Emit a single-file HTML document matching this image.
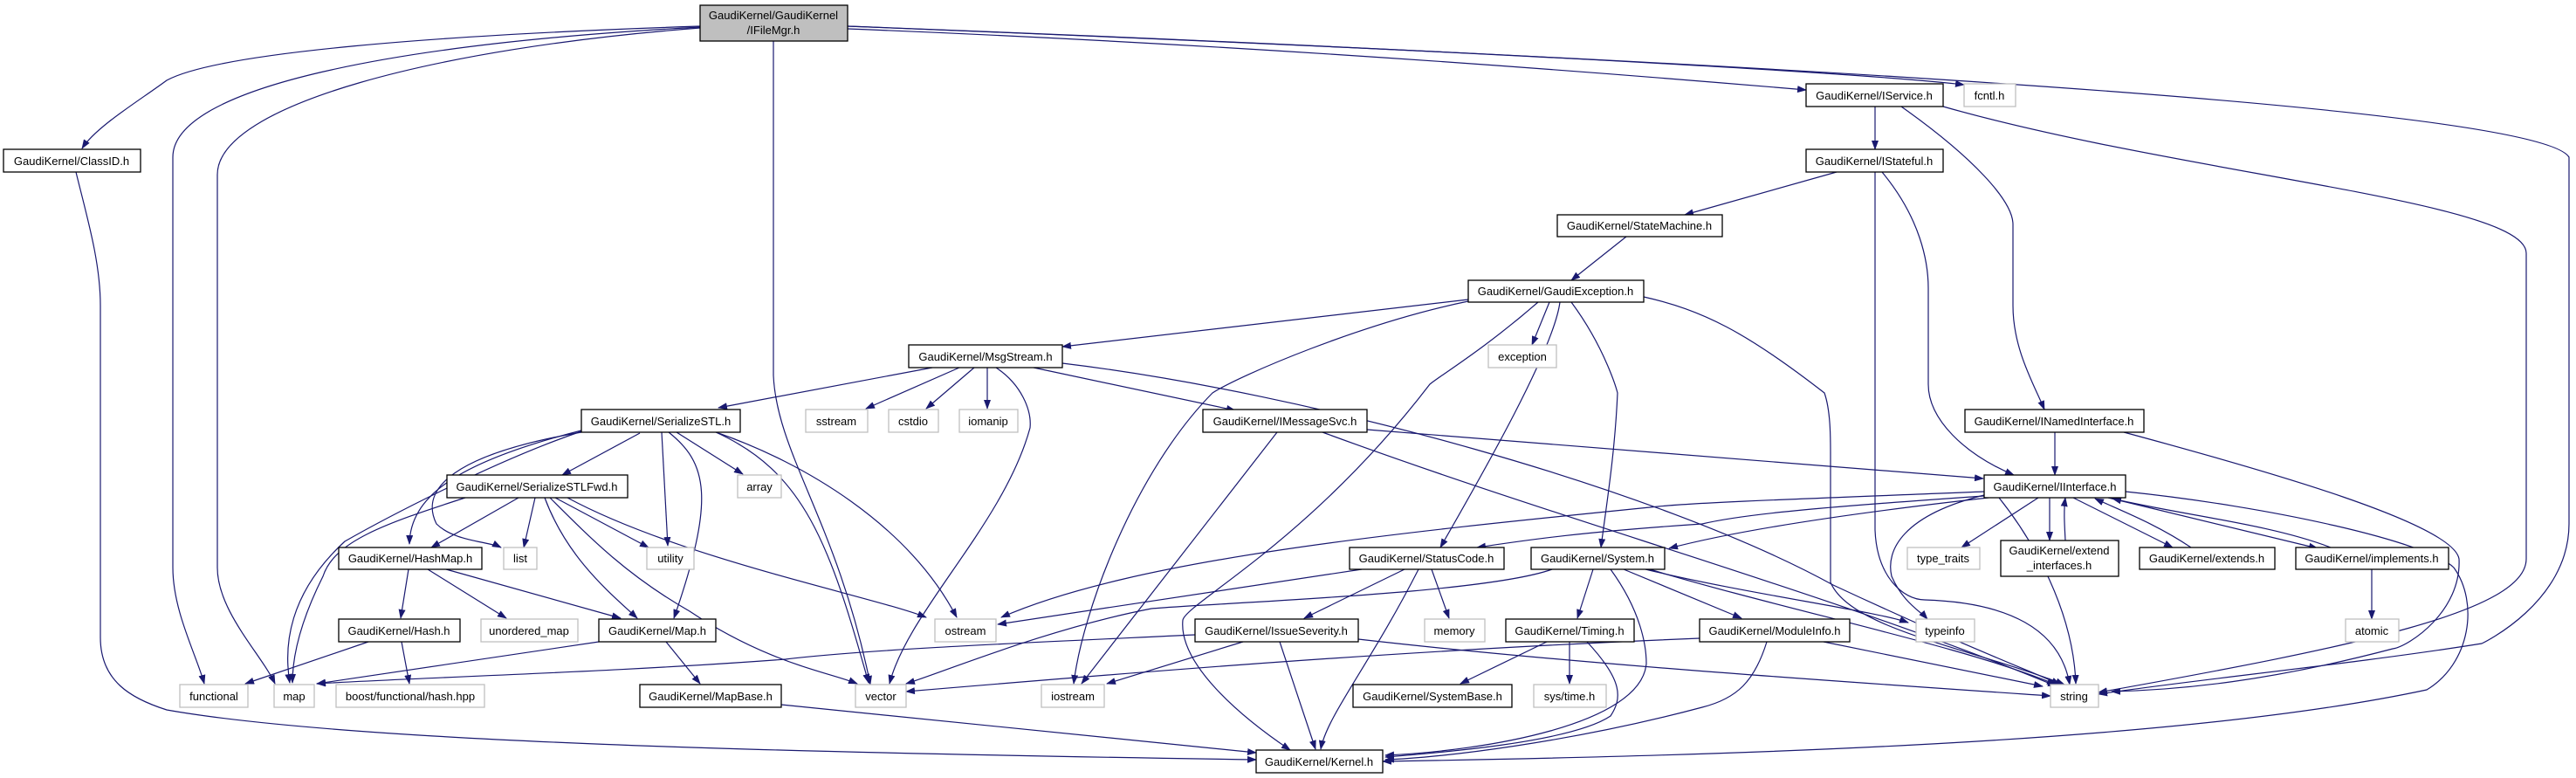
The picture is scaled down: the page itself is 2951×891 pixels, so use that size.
<!DOCTYPE html>
<html><head><meta charset="utf-8"><style>
html,body{margin:0;padding:0;background:#fff;}
svg{display:block;}
text{font-family:"Liberation Sans",sans-serif;font-size:13px;fill:#000;text-anchor:middle;}
.n{fill:#fff;stroke:#000;stroke-width:1.3;}
.g{fill:#fff;stroke:#bfbfbf;stroke-width:1.3;}
.e{fill:none;stroke:#191970;stroke-width:1.2;}
</style></head><body>
<svg width="2951" height="891" viewBox="0 0 2951 891" xmlns="http://www.w3.org/2000/svg">
<defs><marker id="a" markerWidth="11" markerHeight="8" refX="10" refY="4" orient="auto" markerUnits="userSpaceOnUse"><path d="M0,0 L11,4 L0,8 z" fill="#191970"/></marker></defs>
<g class="e" marker-end="url(#a)">
<!-- IFileMgr -->
<path d="M802,30 C500,40 250,60 191,92 C160,115 110,145 94,170"/>
<path d="M802,31 C450,50 198,100 198,180 L198,650 C198,700 225,750 234,783"/>
<path d="M802,32 C500,55 249,120 249,200 L249,650 C249,700 300,750 315,783"/>
<path d="M886,47 L886,430 C890,520 960,600 997,784"/>
<path d="M971,33 C1400,50 1800,80 2069,103"/>
<path d="M971,30 C1500,50 2100,80 2250,97"/>
<path d="M971,30 C1600,55 2900,110 2943,180 L2943,600 C2943,690 2843,737 2843,737 C2700,760 2500,780 2404,795"/>
<!-- ClassID -->
<path d="M87,197 C100,250 115,300 115,350 L115,730 C115,780 150,800 191,813 C400,850 900,862 1439,870"/>
<!-- IService -->
<path d="M2148,122 L2148,171"/>
<path d="M2178,122 C2260,180 2306,230 2306,257 L2306,350 C2306,400 2330,440 2342,469"/>
<path d="M2226,122 C2500,200 2894,230 2894,290 L2894,640 C2894,700 2700,740 2404,793"/>
<!-- IStateful -->
<path d="M2104,197 L1930,246"/>
<path d="M2156,197 C2200,250 2209,300 2209,330 L2209,440 C2209,480 2250,520 2307,544"/>
<path d="M2148,197 L2148,607 C2150,660 2180,687 2205,687 C2300,690 2360,720 2371,784"/>
<!-- StateMachine -->
<path d="M1863,271 L1800,321"/>
<!-- GaudiException -->
<path d="M1682,343 L1217,397"/>
<path d="M1775,346 L1755,395"/>
<path d="M1787,346 C1780,400 1700,540 1650,627"/>
<path d="M1800,346 C1840,400 1853,450 1853,450 C1850,520 1840,580 1834,627"/>
<path d="M1682,345 C1560,370 1420,430 1389,450 C1300,540 1240,700 1230,783"/>
<path d="M1762,346 C1700,400 1650,430 1638,440 C1500,620 1360,690 1355,710 C1350,760 1420,820 1478,859"/>
<path d="M1883,340 C1950,355 2000,380 2090,450 C2097,470 2097,500 2097,520 L2097,667 C2120,720 2250,740 2365,784"/>
<!-- MsgStream -->
<path d="M1068,421 L823,467"/>
<path d="M1099,421 L992,468"/>
<path d="M1116,421 L1061,468"/>
<path d="M1131,421 L1131,468"/>
<path d="M1141,421 C1170,440 1182,470 1180,490 C1150,600 1040,700 1019,783"/>
<path d="M1184,421 L1415,470"/>
<path d="M1217,416 C1500,450 1900,560 2100,670 C2250,740 2330,770 2360,784"/>
<!-- SerializeSTL -->
<path d="M733,496 L644,544"/>
<path d="M775,495 L851,543"/>
<path d="M758,495 L765,625"/>
<path d="M666,495 C520,520 480,560 500,600 C520,620 560,620 574,627"/>
<path d="M666,493 C520,530 470,570 469,623"/>
<path d="M666,494 C560,530 430,600 395,620 C330,680 325,740 332,782"/>
<path d="M766,495 C810,530 820,570 772,708"/>
<path d="M820,495 C920,540 950,620 995,782"/>
<path d="M823,496 C920,530 1040,600 1096,707"/>
<!-- SerializeSTLFwd -->
<path d="M594,570 L494,627"/>
<path d="M613,570 L600,627"/>
<path d="M636,570 L743,627"/>
<path d="M624,570 C650,640 700,680 730,708"/>
<path d="M630,570 C680,620 720,660 790,700 C880,760 950,770 982,783"/>
<path d="M533,570 C440,600 383,620 370,660 C340,720 335,760 335,782"/>
<path d="M650,570 C780,640 1000,683 1061,707"/>
<!-- HashMap -->
<path d="M468,652 L459,708"/>
<path d="M490,652 L580,708"/>
<path d="M511,652 L711,708"/>
<!-- Hash -->
<path d="M422,735 L281,783"/>
<path d="M460,735 L469,783"/>
<!-- Map -->
<path d="M686,735 L363,783"/>
<path d="M763,735 L802,783"/>
<!-- MapBase -->
<path d="M895,807 L1439,862"/>
<!-- IMessageSvc -->
<path d="M1463,495 L1239,783"/>
<path d="M1566,492 L2272,548"/>
<path d="M1515,495 C1800,600 2100,680 2356,786"/>
<!-- StatusCode -->
<path d="M1560,652 L1143,715"/>
<path d="M1609,652 L1494,708"/>
<path d="M1625,652 C1570,760 1520,820 1513,858"/>
<path d="M1640,652 L1660,708"/>
<!-- System -->
<path d="M1778,652 C1700,680 1400,690 1319,697 C1200,720 1080,770 1038,783"/>
<path d="M1825,652 L1807,708"/>
<path d="M1845,652 C1880,700 1886,740 1886,760 C1880,830 1700,860 1587,865"/>
<path d="M1860,652 L1995,708"/>
<path d="M1885,652 C2000,680 2150,700 2186,713"/>
<path d="M1890,652 C2050,700 2250,740 2355,784"/>
<!-- Timing -->
<path d="M1772,735 L1673,783"/>
<path d="M1798,735 L1798,783"/>
<path d="M1818,735 C1860,780 1858,800 1845,820 C1800,850 1650,862 1587,867"/>
<!-- IssueSeverity -->
<path d="M1369,727 C1200,735 1000,743 900,755 C700,770 500,775 363,783"/>
<path d="M1424,735 L1268,783"/>
<path d="M1466,735 L1507,858"/>
<path d="M1556,732 C1800,760 2100,780 2349,797"/>
<!-- ModuleInfo -->
<path d="M1947,731 C1600,745 1300,770 1038,792"/>
<path d="M2089,735 L2340,786"/>
<path d="M2024,735 C2010,780 1990,800 1950,810 C1800,850 1650,868 1587,870"/>
<!-- IInterface -->
<path d="M2273,563 C2100,570 1950,575 1900,580 C1600,610 1300,640 1147,707"/>
<path d="M2273,568 C2100,580 2000,588 1950,600 C1800,610 1740,620 1692,627"/>
<path d="M2278,570 C2100,590 1980,610 1912,628"/>
<path d="M2335,570 L2247,627"/>
<path d="M2348,570 L2348,619"/>
<path d="M2366,619 C2365,600 2364,585 2366,570"/>
<path d="M2375,570 L2489,627"/>
<path d="M2510,627 C2470,600 2430,585 2400,571"/>
<path d="M2415,570 L2655,628"/>
<path d="M2670,627 C2600,600 2500,590 2420,571"/>
<path d="M2273,567 C2180,590 2160,630 2167,660 C2180,690 2200,700 2208,709"/>
<path d="M2290,570 C2330,620 2375,700 2378,783"/>
<path d="M2435,563 C2600,580 2780,620 2811,650 C2840,690 2830,760 2780,790 C2500,850 2000,865 1584,872"/>
<!-- INamedInterface -->
<path d="M2354,495 L2354,544"/>
<path d="M2433,495 C2600,540 2810,600 2817,640 C2820,700 2760,740 2741,743 C2600,780 2500,790 2419,792"/>
<!-- implements -->
<path d="M2717,652 L2717,709"/>
</g>

<!-- nodes -->
<rect x="802" y="6" width="169" height="41" fill="#bfbfbf" stroke="#000" stroke-width="1.3"/>
<text x="886" y="22">GaudiKernel/GaudiKernel</text><text x="886" y="39">/IFileMgr.h</text>

<rect class="n" x="4" y="171" width="157" height="26"/><text x="82" y="189">GaudiKernel/ClassID.h</text>
<rect class="n" x="2069" y="96" width="157" height="26"/><text x="2147" y="114">GaudiKernel/IService.h</text>
<rect class="g" x="2250" y="96" width="59" height="26"/><text x="2279" y="114">fcntl.h</text>
<rect class="n" x="2069" y="171" width="157" height="26"/><text x="2147" y="189">GaudiKernel/IStateful.h</text>
<rect class="n" x="1784" y="246" width="189" height="25"/><text x="1878" y="263">GaudiKernel/StateMachine.h</text>
<rect class="n" x="1682" y="321" width="201" height="25"/><text x="1782" y="338">GaudiKernel/GaudiException.h</text>
<rect class="n" x="1041" y="395" width="176" height="26"/><text x="1129" y="413">GaudiKernel/MsgStream.h</text>
<rect class="g" x="1705" y="395" width="78" height="26"/><text x="1744" y="413">exception</text>

<rect class="n" x="666" y="469" width="182" height="26"/><text x="757" y="487">GaudiKernel/SerializeSTL.h</text>
<rect class="g" x="923" y="469" width="71" height="26"/><text x="958" y="487">sstream</text>
<rect class="g" x="1018" y="469" width="57" height="26"/><text x="1046" y="487">cstdio</text>
<rect class="g" x="1099" y="469" width="67" height="26"/><text x="1132" y="487">iomanip</text>
<rect class="n" x="1378" y="469" width="188" height="26"/><text x="1472" y="487">GaudiKernel/IMessageSvc.h</text>
<rect class="n" x="2251" y="469" width="205" height="26"/><text x="2353" y="487">GaudiKernel/INamedInterface.h</text>

<rect class="n" x="512" y="544" width="207" height="26"/><text x="615" y="562">GaudiKernel/SerializeSTLFwd.h</text>
<rect class="g" x="845" y="544" width="50" height="26"/><text x="870" y="562">array</text>
<rect class="n" x="2273" y="544" width="162" height="26"/><text x="2354" y="562">GaudiKernel/IInterface.h</text>

<rect class="n" x="388" y="627" width="164" height="25"/><text x="470" y="644">GaudiKernel/HashMap.h</text>
<rect class="g" x="577" y="627" width="38" height="25"/><text x="596" y="644">list</text>
<rect class="g" x="741" y="627" width="54" height="25"/><text x="768" y="644">utility</text>
<rect class="n" x="1546" y="627" width="177" height="25"/><text x="1634" y="644">GaudiKernel/StatusCode.h</text>
<rect class="n" x="1754" y="627" width="153" height="25"/><text x="1830" y="644">GaudiKernel/System.h</text>
<rect class="g" x="2185" y="627" width="83" height="25"/><text x="2226" y="644">type_traits</text>
<rect class="n" x="2292" y="619" width="135" height="41"/><text x="2359" y="635">GaudiKernel/extend</text><text x="2359" y="652">_interfaces.h</text>
<rect class="n" x="2451" y="627" width="155" height="25"/><text x="2528" y="644">GaudiKernel/extends.h</text>
<rect class="n" x="2630" y="627" width="175" height="25"/><text x="2717" y="644">GaudiKernel/implements.h</text>

<rect class="n" x="388" y="709" width="139" height="26"/><text x="457" y="727">GaudiKernel/Hash.h</text>
<rect class="g" x="551" y="709" width="111" height="26"/><text x="606" y="727">unordered_map</text>
<rect class="n" x="686" y="709" width="134" height="26"/><text x="753" y="727">GaudiKernel/Map.h</text>
<rect class="g" x="1071" y="709" width="70" height="26"/><text x="1106" y="727">ostream</text>
<rect class="n" x="1369" y="709" width="187" height="26"/><text x="1462" y="727">GaudiKernel/IssueSeverity.h</text>
<rect class="g" x="1632" y="709" width="69" height="26"/><text x="1666" y="727">memory</text>
<rect class="n" x="1725" y="709" width="147" height="26"/><text x="1798" y="727">GaudiKernel/Timing.h</text>
<rect class="n" x="1947" y="709" width="172" height="26"/><text x="2033" y="727">GaudiKernel/ModuleInfo.h</text>
<rect class="g" x="2195" y="709" width="67" height="26"/><text x="2228" y="727">typeinfo</text>
<rect class="g" x="2687" y="709" width="61" height="26"/><text x="2717" y="727">atomic</text>

<rect class="g" x="206" y="784" width="78" height="26"/><text x="245" y="802">functional</text>
<rect class="g" x="314" y="784" width="46" height="26"/><text x="337" y="802">map</text>
<rect class="g" x="385" y="784" width="170" height="26"/><text x="470" y="802">boost/functional/hash.hpp</text>
<rect class="n" x="733" y="784" width="162" height="26"/><text x="814" y="802">GaudiKernel/MapBase.h</text>
<rect class="g" x="980" y="784" width="58" height="26"/><text x="1009" y="802">vector</text>
<rect class="g" x="1193" y="784" width="72" height="26"/><text x="1229" y="802">iostream</text>
<rect class="n" x="1550" y="784" width="182" height="26"/><text x="1641" y="802">GaudiKernel/SystemBase.h</text>
<rect class="g" x="1757" y="784" width="83" height="26"/><text x="1798" y="802">sys/time.h</text>
<rect class="g" x="2349" y="784" width="55" height="26"/><text x="2376" y="802">string</text>

<rect class="n" x="1439" y="859" width="145" height="26"/><text x="1511" y="877">GaudiKernel/Kernel.h</text>
</svg>
</body></html>
